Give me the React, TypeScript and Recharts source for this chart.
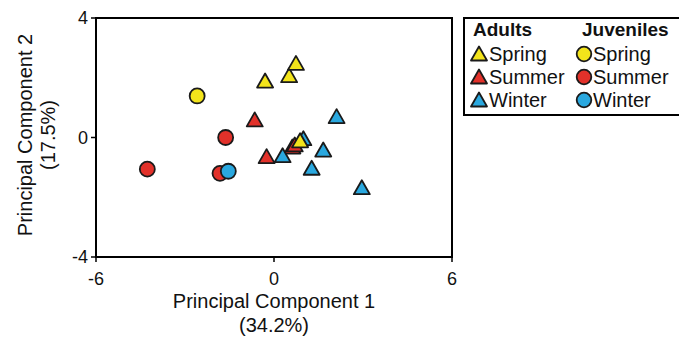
import React from "react";
import { ScatterChart, Scatter, XAxis, YAxis, ReferenceArea } from "recharts";

const adultSpring = [
  { x: -0.3, y: 1.89 },
  { x: 0.51, y: 2.07 },
  { x: 0.74, y: 2.48 },
  { x: 0.88, y: -0.11 },
];
const adultSummer = [
  { x: -0.65, y: 0.59 },
  { x: -0.25, y: -0.64 },
  { x: 0.62, y: -0.32 },
  { x: 0.7, y: -0.25 },
];
const adultWinter = [
  { x: 0.29, y: -0.61 },
  { x: 0.99, y: -0.04 },
  { x: 1.66, y: -0.42 },
  { x: 1.27, y: -1.03 },
  { x: 2.11, y: 0.7 },
  { x: 2.96, y: -1.68 },
];
const juvSpring = [{ x: -2.59, y: 1.39 }];
const juvSummer = [
  { x: -1.63, y: 0.0 },
  { x: -4.27, y: -1.06 },
  { x: -1.82, y: -1.2 },
];
const juvWinter = [{ x: -1.54, y: -1.13 }];

const xTicks = [-6, 0, 6];
const yTicks = [-4, 0, 4];
const seasons = ["Spring", "Summer", "Winter"];
const groups = ["Adults", "Juveniles"];
const colors: Record<string, string> = {
  Spring: "#f3e41b",
  Summer: "#e2312a",
  Winter: "#2aa8df",
};
const xTitle = ["Principal Component 1", "(34.2%)"];
const yTitle = ["Principal Component 2", "(17.5%)"];

const FONT = "'Liberation Sans', Arial, sans-serif";
const STROKE = "#1a1a1a";

const triPoints = (cx: number, cy: number) =>
  `${cx},${cy - 7.5} ${cx + 8},${cy + 6.5} ${cx - 8},${cy + 6.5}`;

const Tri = (p: any) => (
  <polygon points={triPoints(p.cx, p.cy)} fill={p.fill} stroke={STROKE} strokeWidth={1.8} strokeLinejoin="round" />
);
const Circ = (p: any) => (
  <circle cx={p.cx} cy={p.cy} r={7.5} fill={p.fill} stroke={STROKE} strokeWidth={1.8} />
);

export default function App() {
  return (
    <div style={{ position: "absolute", left: 0, top: 0, width: 679, height: 337, background: "#fff" }}>
      <ScatterChart width={679} height={337} margin={{ top: 18, right: 227, bottom: 0, left: 0 }}>
        <XAxis
          dataKey="x"
          type="number"
          domain={[-6, 6]}
          ticks={xTicks}
          height={80}
          axisLine={{ stroke: "#000", strokeWidth: 2 }}
          tickLine={{ stroke: "#000", strokeWidth: 1.5 }}
          tickSize={5}
          tickMargin={10}
          tick={{ fontSize: 18, fill: "#111", fontFamily: FONT }}
          allowDataOverflow
        />
        <YAxis
          dataKey="y"
          type="number"
          domain={[-4, 4]}
          ticks={yTicks}
          width={96}
          axisLine={{ stroke: "#000", strokeWidth: 2 }}
          tickLine={{ stroke: "#000", strokeWidth: 1.5 }}
          tickSize={5}
          tickMargin={3}
          tick={{ fontSize: 18, fill: "#111", fontFamily: FONT }}
          allowDataOverflow
        />
        <ReferenceArea x1={-6} x2={6} y1={-4} y2={4} fill="none" fillOpacity={0} stroke="#000" strokeWidth={2} />
        <Scatter data={adultSummer} fill={colors.Summer} shape={Tri} isAnimationActive={false} />
        <Scatter data={adultWinter} fill={colors.Winter} shape={Tri} isAnimationActive={false} />
        <Scatter data={adultSpring} fill={colors.Spring} shape={Tri} isAnimationActive={false} />
        <Scatter data={juvSummer} fill={colors.Summer} shape={Circ} isAnimationActive={false} />
        <Scatter data={juvWinter} fill={colors.Winter} shape={Circ} isAnimationActive={false} />
        <Scatter data={juvSpring} fill={colors.Spring} shape={Circ} isAnimationActive={false} />
      </ScatterChart>
      <svg
        width={679}
        height={337}
        style={{ position: "absolute", left: 0, top: 0, pointerEvents: "none" }}
        fontFamily={FONT}
      >
        <text x={274} y={308} fontSize={20} textAnchor="middle" fill="#111">{xTitle[0]}</text>
        <text x={274} y={332} fontSize={20} textAnchor="middle" fill="#111">{xTitle[1]}</text>
        <text transform="translate(32,135) rotate(-90)" fontSize={20} textAnchor="middle" fill="#111">{yTitle[0]}</text>
        <text transform="translate(55,135) rotate(-90)" fontSize={20} textAnchor="middle" fill="#111">{yTitle[1]}</text>

        <rect x={464} y={18} width={218} height={97} fill="#fff" stroke="#000" strokeWidth={2} />
        <text x={473} y={36} fontSize={19} fontWeight="bold" fill="#111">{groups[0]}</text>
        <text x={582} y={36} fontSize={19} fontWeight="bold" fill="#111">{groups[1]}</text>
        {seasons.map((s, i) => {
          const cy = 54 + i * 23;
          return (
            <g key={s}>
              <polygon points={triPoints(479, cy)} fill={colors[s]} stroke={STROKE} strokeWidth={1.8} strokeLinejoin="round" />
              <text x={489} y={cy + 7} fontSize={20} fill="#111">{s}</text>
              <circle cx={584} cy={cy} r={7.3} fill={colors[s]} stroke={STROKE} strokeWidth={1.8} />
              <text x={593} y={cy + 7} fontSize={20} fill="#111">{s}</text>
            </g>
          );
        })}
      </svg>
    </div>
  );
}
